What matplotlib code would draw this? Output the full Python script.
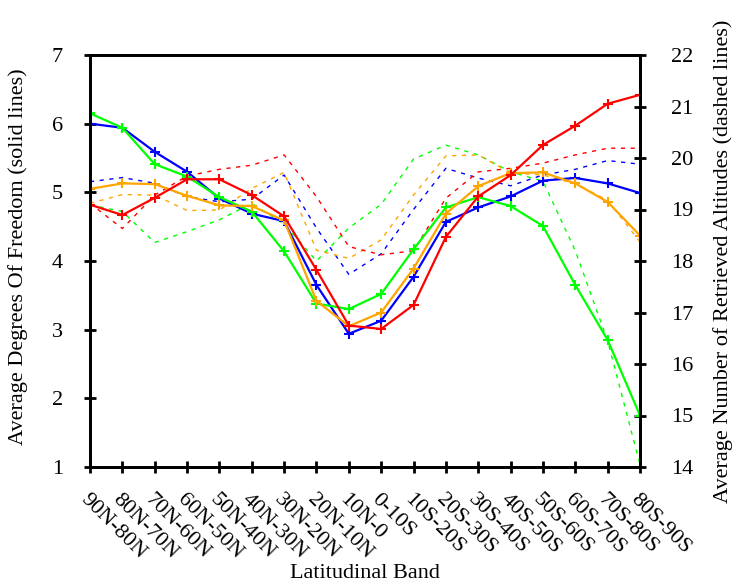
import matplotlib

matplotlib.use("Agg")
import matplotlib.pyplot as plt
from matplotlib.transforms import ScaledTranslation

bands = ["90N-80N", "80N-70N", "70N-60N", "60N-50N", "50N-40N", "40N-30N",
         "30N-20N", "20N-10N", "10N-0", "0-10S", "10S-20S", "20S-30S",
         "30S-40S", "40S-50S", "50S-60S", "60S-70S", "70S-80S", "80S-90S"]

# average degrees of freedom (solid, left axis)
dof_blue = [6.00, 5.94, 5.59, 5.30, 4.91, 4.69, 4.58, 3.65, 2.94, 3.13,
            3.77, 4.57, 4.78, 4.94, 5.17, 5.21, 5.13, 4.99]
dof_green = [6.15, 5.94, 5.41, 5.23, 4.93, 4.72, 4.14, 3.38, 3.30, 3.52,
             4.17, 4.78, 4.93, 4.80, 4.51, 3.65, 2.85, 1.75]
dof_orange = [5.05, 5.13, 5.12, 4.95, 4.81, 4.80, 4.59, 3.42, 3.05, 3.25,
              3.89, 4.69, 5.09, 5.28, 5.29, 5.13, 4.86, 4.37]
dof_red = [4.82, 4.67, 4.92, 5.19, 5.19, 4.96, 4.65, 3.87, 3.06, 3.01,
           3.36, 4.35, 4.94, 5.25, 5.69, 5.97, 6.29, 6.42]

# average number of retrieved altitudes (dashed, right axis)
alt_blue = [19.54, 19.62, 19.51, 19.25, 19.15, 19.20, 19.67, 18.64, 17.74, 18.14,
            19.00, 19.80, 19.61, 19.46, 19.67, 19.78, 19.95, 19.88]
alt_green = [19.09, 18.96, 18.36, 18.57, 18.80, 19.12, 18.72, 18.00, 18.64, 19.10,
             19.98, 20.25, 20.06, 19.73, 19.55, 18.20, 16.45, 14.05]
alt_orange = [19.12, 19.29, 19.28, 18.98, 18.99, 19.41, 19.72, 18.21, 18.05, 18.41,
              19.28, 20.04, 20.06, 19.71, 19.67, 19.50, 19.18, 18.37]
alt_red = [19.12, 18.63, 19.28, 19.65, 19.78, 19.86, 20.06, 19.25, 18.28, 18.12,
           18.20, 19.22, 19.73, 19.80, 19.90, 20.06, 20.19, 20.19]

colours = {"blue": "#0000ff", "green": "#00ff00", "orange": "#ffa500", "red": "#ff0000"}

plt.rcParams.update({
    "font.family": ["Liberation Serif", "DejaVu Serif"],
    "font.size": 16,
})

fig = plt.figure(figsize=(7.38, 5.86), dpi=100)
ax = fig.add_axes([90 / 738, 1 - 467 / 586, 550 / 738, 412 / 586])
ax2 = ax.twinx()

x = list(range(len(bands)))
dashed = [(alt_blue, "blue"), (alt_green, "green"), (alt_orange, "orange"), (alt_red, "red")]
for vals, c in dashed:
    ax2.plot(x, vals, color=colours[c], linewidth=1.0, linestyle=(0, (3, 4)))

solid = [(dof_blue, "blue"), (dof_green, "green"), (dof_orange, "orange"), (dof_red, "red")]
for vals, c in solid:
    ax.plot(x, vals, color=colours[c], linewidth=1.6, marker="+",
            markersize=7, markeredgewidth=1.5)

# solid lines above the dashed ones
ax.set_zorder(ax2.get_zorder() + 1)
ax.patch.set_visible(False)

ax.set_xlim(0, len(bands) - 1)
ax.set_ylim(1, 7)
ax2.set_ylim(14, 22)
ax.set_yticks(range(1, 8))
ax2.set_yticks(range(14, 23))
ax.set_xticks(x)
ax.set_xticklabels(bands, rotation=-45, ha="left", va="top", rotation_mode="anchor")
shift = ScaledTranslation(16 / 100, 0, fig.dpi_scale_trans)
for lab in ax.get_xticklabels():
    lab.set_transform(lab.get_transform() + shift)

for a in (ax, ax2):
    for s in a.spines.values():
        s.set_linewidth(2.0)
ax.tick_params(axis="both", direction="inout", length=9, width=2)
ax.tick_params(axis="y", pad=15)
ax.tick_params(axis="x", pad=12)
ax2.tick_params(axis="y", direction="inout", length=9, width=2, pad=18)

ax.set_xlabel("Latitudinal Band")
ax.set_ylabel("Average Degrees Of Freedom (solid lines)")
ax2.set_ylabel("Average Number of Retrieved Altitudes (dashed lines)")
ax.xaxis.set_label_coords(0.5, -0.235)
ax.yaxis.set_label_coords(-0.112, 0.51)
ax2.yaxis.set_label_coords(1.133, 0.5)

fig.savefig("out.png", dpi=100)
